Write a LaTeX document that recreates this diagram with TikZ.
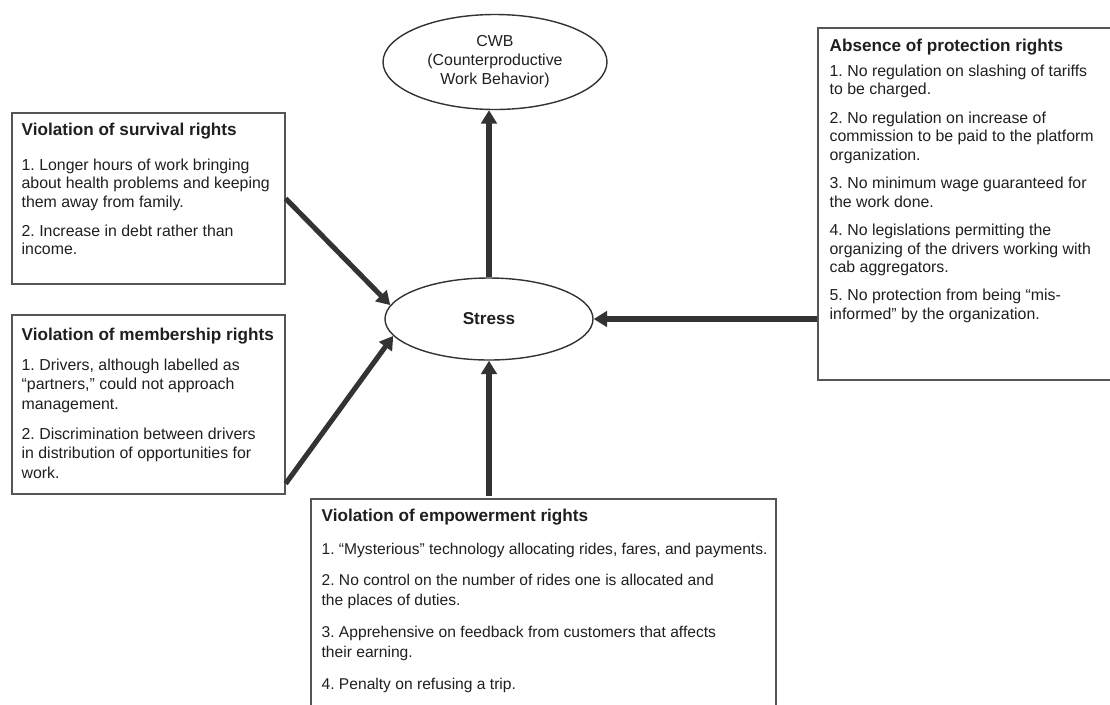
\documentclass[tikz,border=0pt]{standalone}
\usepackage{fontspec}
\setmainfont{Liberation Sans}
\usepackage{tikz}
\usetikzlibrary{arrows.meta,shapes.geometric}
\definecolor{ink}{HTML}{333333}
\definecolor{frame}{HTML}{555555}
\newcommand\ttl[1]{{\fontsize{12.2}{14}\selectfont\bfseries #1}}
\frenchspacing

\begin{document}
\begin{tikzpicture}[
  box/.style={draw=frame,line width=0.9pt,rectangle,inner sep=0pt},
  txt/.style={anchor=north west,inner sep=0pt,align=left,text=black!88,
              font=\fontsize{11.3}{13}\selectfont},
  bubble/.style={draw=ink,line width=1pt,ellipse,inner sep=0pt,align=center,
              text=black!88,font=\fontsize{11.3}{13.5}\selectfont},
  arr/.style={draw=ink,line width=3.6pt,-{Triangle[length=9.5pt,width=11pt]}}
]
%\draw[help lines] (0,0)grid(28,-18);
\useasboundingbox (0,0) rectangle (27.75,-17.6);
\clip (0,0) rectangle (27.75,-17.6);
\node[bubble,minimum width=5.6cm,minimum height=2.375cm] (cwb) at (12.375,-1.55)
     {CWB\\(Counterproductive\\Work Behavior)};
\node[bubble,minimum width=5.2cm,minimum height=2.05cm] (stress) at (12.225,-7.975)
     {\ttl{Stress}};
\node[box,minimum width=6.825cm,minimum height=4.275cm] (surv) at (3.7125,-4.9625){};
\node[box,minimum width=6.825cm,minimum height=4.475cm] (memb) at (3.7125,-10.1125){};
\node[box,minimum width=7.75cm,minimum height=8.8cm] (prot) at (24.325,-5.1){};
\node[box,minimum width=11.625cm,minimum height=5.725cm] (emp) at (13.5875,-15.3375){};
% texts of the four boxes
\node[txt] (survtxt) at ([shift={(0.25,-0.26)}]surv.north west)
     {\ttl{Violation of survival rights}\\[12pt]
      1. Longer hours of work bringing\\
      about health problems and keeping\\
      them away from family.\\[8pt]
      2. Increase in debt rather than\\
      income.};
\node[txt,font=\fontsize{11.3}{13.9}\selectfont] (membtxt) at ([shift={(0.25,-0.34)}]memb.north west)
     {\ttl{Violation of membership rights}\\[7pt]
      1. Drivers, although labelled as\\
      “partners,” could not approach\\
      management.\\[7.4pt]
      2. Discrimination between drivers\\
      in distribution of opportunities for\\
      work.};
\node[txt] (prottxt) at ([shift={(0.3,-0.28)}]prot.north west)
     {\ttl{Absence of protection rights}\\[5pt]
      1. No regulation on slashing of tariffs\\
      to be charged.\\[7.4pt]
      2. No regulation on increase of\\
      commission to be paid to the platform\\
      organization.\\[7.4pt]
      3. No minimum wage guaranteed for\\
      the work done.\\[7.4pt]
      4. No legislations permitting the\\
      organizing of the drivers working with\\
      cab aggregators.\\[7.4pt]
      5. No protection from being “mis-\\
      informed” by the organization.};
\node[txt,font=\fontsize{11.1}{14.2}\selectfont] (emptxt) at ([shift={(0.275,-0.26)}]emp.north west)
     {\ttl{Violation of empowerment rights}\\[9pt]
      1. “Mysterious” technology allocating rides, fares, and payments.\\[8pt]
      2. No control on the number of rides one is allocated and\\
      the places of duties.\\[8.5pt]
      3. Apprehensive on feedback from customers that affects\\
      their earning.\\[8.5pt]
      4. Penalty on refusing a trip.};
% arrows into and out of Stress
\draw[arr] (stress.north) -- (stress.north |- cwb.south);
\draw[arr] (surv.east) -- (stress.172);
\draw[arr] (memb.-30) -- (stress.190);
\draw[arr,shorten <=2pt] (emp.north -| stress.south) -- (stress.south);
\draw[arr] (prot.west |- stress.east) -- (stress.east);
\end{tikzpicture}
\end{document}
